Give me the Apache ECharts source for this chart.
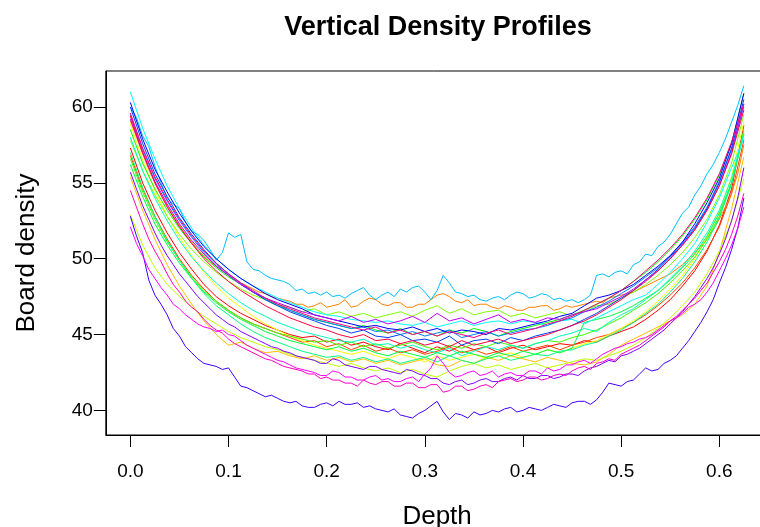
<!DOCTYPE html>
<html>
<head>
<meta charset="utf-8">
<script src="https://cdn.jsdelivr.net/npm/echarts@6/dist/echarts.min.js"></script>
<style>
html,body{margin:0;padding:0;background:#fff;}
#chart{width:760px;height:527px;}
</style>
</head>
<body>
<div id="chart"></div>
<script>
// Depth positions (inches), coarse sampling
const depth = [0, 0.0125, 0.025, 0.0375, 0.05, 0.0625, 0.075, 0.0875, 0.1, 0.1125,
  0.125, 0.1375, 0.15, 0.1625, 0.175, 0.1875, 0.2, 0.2125, 0.225, 0.2375,
  0.25, 0.2625, 0.275, 0.2875, 0.3, 0.3125, 0.325, 0.3375, 0.35, 0.3625,
  0.375, 0.3875, 0.4, 0.4125, 0.425, 0.4375, 0.45, 0.4625, 0.475, 0.4875,
  0.5, 0.5125, 0.525, 0.5375, 0.55, 0.5625, 0.575, 0.5875, 0.6, 0.6125, 0.625];

// Depth positions (inches), fine sampling for the clearly separated profiles
const depthFine = [0,0.00625,0.0125,0.01875,0.025,0.03125,0.0375,0.04375,0.05,0.05625,
  0.0625,0.06875,0.075,0.08125,0.0875,0.09375,0.1,0.10625,0.1125,0.11875,
  0.125,0.13125,0.1375,0.14375,0.15,0.15625,0.1625,0.16875,0.175,0.18125,
  0.1875,0.19375,0.2,0.20625,0.2125,0.21875,0.225,0.23125,0.2375,0.24375,
  0.25,0.25625,0.2625,0.26875,0.275,0.28125,0.2875,0.29375,0.3,0.30625,
  0.3125,0.31875,0.325,0.33125,0.3375,0.34375,0.35,0.35625,0.3625,0.36875,
  0.375,0.38125,0.3875,0.39375,0.4,0.40625,0.4125,0.41875,0.425,0.43125,
  0.4375,0.44375,0.45,0.45625,0.4625,0.46875,0.475,0.48125,0.4875,0.49375,
  0.5,0.50625,0.5125,0.51875,0.525,0.53125,0.5375,0.54375,0.55,0.55625,
  0.5625,0.56875,0.575,0.58125,0.5875,0.59375,0.6,0.60625,0.6125,0.61875,0.625];

// Board density profiles (one per board)
const p01 = [57.3,55.0,53.2,51.7,50.4,49.3,48.3,47.5,46.9,46.4,46.0,45.6,45.3,45.0,44.8,44.9,44.5,44.7,44.3,44.5,44.2,44.0,44.4,44.1,43.8,44.2,43.9,44.3,44.0,44.2,43.8,44.1,44.3,44.0,44.2,44.4,44.3,44.6,44.5,44.9,45.2,45.5,46.0,46.6,47.3,48.2,49.2,50.5,52.2,54.6,58.8];
const p02 = [56.8,54.6,52.8,51.3,50.0,48.9,48.0,47.2,46.6,46.1,45.7,45.4,45.1,44.8,44.5,44.6,44.2,44.4,44.0,44.3,43.9,44.1,43.8,44.0,43.7,43.9,44.2,43.8,44.0,43.7,43.9,44.2,43.9,44.1,44.3,44.0,44.3,44.5,44.8,45.0,45.4,45.8,46.3,46.9,47.6,48.4,49.4,50.6,52.1,54.3,57.8];
const p03 = [59.1,58.0,56.9,55.9,55.0,54.2,53.5,52.8,52.2,51.6,51.1,50.6,50.2,49.8,49.5,49.2,48.9,48.7,48.4,48.2,
  48.0,47.8,47.7,47.5,47.4,47.3,47.2,47.0,47.0,46.8,46.9,47.1,46.8,46.9,47.0,47.3,46.8,46.9,47.2,47.4,
  47.3,47.0,46.9,47.1,47.1,46.8,46.8,47.0,47.0,47.3,47.6,47.7,47.5,47.2,47.1,47.3,46.9,47.0,47.0,46.8,
  46.7,46.9,46.8,46.6,46.6,46.8,46.8,46.9,46.9,46.6,46.7,46.9,46.8,46.9,47.0,47.1,47.2,47.1,47.4,47.5,
  47.6,47.7,47.8,48.0,48.2,48.4,48.6,48.8,49.0,49.3,49.6,50.0,50.4,50.8,51.3,51.9,52.6,53.4,54.3,55.6,57.5];
const p04 = [55.4,53.2,51.3,49.6,48.2,47.0,45.9,45.0,44.3,44.5,44.1,43.8,43.9,43.6,43.4,43.6,43.3,43.5,43.2,43.4,43.1,43.3,43.0,43.2,43.4,43.0,42.9,43.3,43.1,43.5,43.3,43.6,43.4,43.2,43.5,43.3,43.1,43.0,43.2,43.7,44.3,44.7,45.1,45.5,45.9,46.3,47.0,48.2,50.4,53.3,56.7];
const p05 = [58.9,56.5,54.5,52.8,51.4,50.2,49.1,48.2,47.4,46.8,46.2,45.7,45.3,44.9,44.6,44.3,44.1,43.9,43.7,43.9,43.6,43.4,43.7,43.5,43.2,43.6,43.3,43.5,43.7,43.4,43.6,43.8,43.5,43.7,44.0,43.8,44.1,44.4,44.6,45.0,45.4,45.9,46.5,47.2,48.0,48.9,50.0,51.4,53.1,55.4,59.0];
const p06 = [52.9,50.9,49.4,48.3,47.5,46.8,46.2,45.7,45.2,44.8,44.5,44.2,44.0,43.7,43.5,43.3,43.1,42.9,43.1,42.8,42.6,42.8,42.5,42.7,42.4,42.2,42.6,42.9,43.1,42.8,43.0,42.7,42.9,43.1,42.8,43.0,43.2,43.4,43.3,43.6,43.9,44.3,44.8,45.4,46.1,46.9,47.8,49.0,50.5,52.5,55.3];
const p07 = [57.8,55.8,54.2,52.8,51.6,50.6,49.8,49.1,48.5,48.0,47.6,47.3,47.0,46.8,46.5,46.7,46.3,46.5,46.2,46.4,46.1,46.3,46.5,46.2,46.6,46.9,46.4,46.7,46.3,46.5,46.6,46.2,46.4,46.1,46.3,46.5,46.2,46.6,46.9,47.0,47.4,47.8,48.3,48.9,49.6,50.4,51.4,52.6,54.2,56.3,59.5];
const p08 = [56.6,54.4,52.6,51.1,49.9,48.8,47.9,47.2,46.6,46.1,45.7,45.4,45.1,44.9,44.7,44.5,44.6,44.3,44.5,44.2,44.4,44.1,44.3,44.5,44.2,44.0,44.3,44.1,44.4,44.2,44.5,44.3,44.1,44.4,44.6,44.5,44.8,45.0,45.3,45.7,46.1,46.6,47.1,47.7,48.4,49.2,50.1,51.3,52.8,55.0,58.5];
const p09 = [58.5,56.3,54.6,53.2,52.0,51.0,50.1,49.4,48.8,48.3,47.8,47.3,46.9,46.6,46.3,46.0,45.8,45.6,45.4,45.6,45.3,45.1,45.4,45.0,45.2,44.9,45.3,45.1,45.4,45.2,44.9,45.2,45.4,45.6,45.8,46.0,46.3,46.6,47.0,47.4,47.9,48.5,49.1,49.8,50.6,51.5,52.6,53.9,55.5,57.6,60.9];
const p10 = [56.2,54.1,52.3,50.9,49.7,48.7,47.8,47.1,46.5,46.0,45.6,45.2,44.9,44.6,44.4,44.2,44.0,44.2,43.9,44.1,43.8,43.6,43.9,43.7,43.5,43.8,43.6,43.9,43.7,43.5,43.8,43.6,43.9,43.7,44.0,43.8,44.1,45.8,46.0,46.2,46.5,46.9,47.4,47.9,48.6,49.4,50.3,51.5,53.0,55.0,58.2];
const p11 = [57.0,54.7,52.8,51.2,49.9,48.7,47.7,46.9,46.3,45.7,45.2,44.8,44.5,44.2,43.9,43.7,43.5,43.6,43.3,43.5,43.2,43.4,43.1,43.3,43.5,43.2,43.6,43.3,43.1,43.4,43.6,43.3,43.5,43.7,43.6,43.9,44.0,44.3,44.5,44.9,45.3,45.8,46.4,47.0,47.8,48.7,49.8,51.1,52.7,54.9,58.3];
const p12 = [58.0,55.8,54.0,52.5,51.2,50.1,49.2,48.4,47.7,47.1,46.6,46.2,45.8,45.5,45.2,45.0,44.8,44.6,44.5,44.7,44.3,44.4,44.1,44.3,44.0,43.8,44.1,43.6,43.9,44.2,44.0,44.3,44.1,44.4,44.6,44.9,45.1,45.4,45.2,45.8,46.3,46.7,47.3,47.9,48.7,49.5,50.5,51.7,53.2,55.3,58.2];
const p13 = [61.0,58.6,56.6,54.8,53.3,52.0,50.9,50.0,49.3,48.7,48.2,47.8,47.4,47.1,46.8,46.5,46.3,46.2,46.0,45.9,45.8,45.9,45.7,45.6,45.8,45.5,45.7,45.9,45.6,45.8,45.9,45.7,45.9,45.8,45.6,45.9,46.0,45.7,46.1,46.5,46.9,47.3,47.6,48.3,49.1,50.0,51.0,52.4,54.0,56.0,57.9];
const p14 = [60.0,59.3,58.1,57.4,56.1,55.0,54.0,53.6,53.3,52.4,51.8,51.6,51.2,50.6,49.9,50.4,51.7,51.4,51.6,49.8,
  49.3,49.2,48.9,48.7,48.6,48.5,48.3,47.9,48.0,47.7,47.8,47.6,47.8,47.5,47.6,47.4,47.7,47.9,48.1,47.6,
  47.3,47.6,47.8,47.5,48.0,47.8,48.1,48.2,47.8,47.3,47.9,48.9,48.4,47.8,47.7,47.5,47.6,47.3,47.2,47.4,
  47.5,47.3,47.6,47.8,47.7,47.4,47.5,47.7,47.6,47.3,47.4,47.2,47.3,47.1,47.3,47.6,48.9,49.0,48.8,49.1,
  49.2,49.0,49.6,49.8,50.3,50.2,50.8,51.1,51.6,52.3,53.0,53.4,54.2,54.8,55.6,56.2,57.0,57.9,59.0,60.1,61.4];
const p15 = [59.5,57.2,55.3,53.8,52.5,51.4,50.4,49.6,48.9,48.3,47.8,47.4,47.0,46.6,46.3,46.0,45.8,45.6,45.4,45.5,45.2,45.3,45.0,45.2,44.9,45.1,45.3,44.8,45.0,45.2,44.9,45.1,45.3,45.4,45.6,45.9,46.1,46.5,46.8,47.2,47.7,48.2,48.8,49.4,50.2,51.1,52.1,53.4,55.1,57.2,60.0];
const p16 = [60.0,57.6,55.6,54.1,52.7,51.6,50.6,49.7,49.0,48.4,47.8,47.3,46.9,46.5,46.2,45.9,45.6,45.4,45.1,45.3,44.9,44.8,45.0,44.6,44.7,44.5,44.9,44.3,44.6,44.7,44.4,44.8,44.6,44.9,45.1,45.3,45.6,46.0,46.4,46.9,47.4,47.9,48.6,49.3,50.1,51.0,52.0,53.3,55.0,57.3,60.5];
const p17 = [60.3,57.9,55.9,54.4,53.0,51.8,50.8,50.0,49.3,48.7,48.2,47.7,47.3,47.0,46.7,46.3,46.1,45.9,45.7,45.5,45.6,45.4,45.3,45.5,45.2,45.4,45.1,45.3,45.2,45.0,45.4,45.3,45.5,45.7,45.9,46.2,46.4,46.9,47.4,47.6,47.9,48.3,48.9,49.5,50.2,51.1,52.3,53.7,55.3,57.6,60.9];
const p18 = [52.8,51.5,50.4,48.6,47.6,47.0,46.3,45.4,44.9,44.2,43.8,43.4,43.1,43.0,42.9,42.7,42.8,42.2,41.6,41.5,
  41.3,41.1,40.9,41.0,40.8,40.6,40.5,40.6,40.3,40.2,40.2,40.4,40.5,40.3,40.6,40.4,40.4,40.5,40.2,40.3,
  40.1,40.0,39.9,40.1,39.7,39.6,39.5,39.8,40.0,40.3,40.6,39.9,39.4,39.8,39.7,39.5,39.9,39.7,39.8,40.0,
  39.9,40.1,40.2,39.9,40.0,40.2,40.1,40.0,40.2,40.4,40.3,40.2,40.5,40.6,40.6,40.4,40.7,41.2,41.8,41.7,
  41.6,41.9,42.0,42.4,42.8,42.6,42.7,43.1,43.3,43.6,44.1,44.6,45.2,45.8,46.5,47.3,48.4,49.4,50.6,52.0,54.0];
const p19 = [55.7,54.6,53.5,52.6,51.7,50.9,50.2,49.6,49.0,48.5,48.0,47.5,47.1,46.7,46.3,46.0,45.7,45.5,45.2,45.0,
  44.8,44.6,44.4,44.2,44.1,43.9,43.8,43.6,43.5,43.4,43.3,43.1,43.1,43.4,43.3,43.0,42.9,42.8,42.7,42.9,
  42.9,42.7,42.6,42.5,42.4,42.7,42.6,42.4,42.3,42.1,42.1,41.8,41.7,41.9,42.0,41.7,41.8,42.0,42.1,41.9,
  41.9,42.1,42.2,42.0,42.3,42.1,42.1,42.3,42.3,42.1,42.2,42.4,42.4,42.3,42.6,42.8,42.9,43.1,43.3,43.2,
  43.6,43.7,43.9,44.1,44.4,44.7,45.0,45.3,45.7,46.1,46.5,47.0,47.5,48.1,48.7,49.4,50.3,51.3,52.5,54.0,56.0];
const p20 = [59.2,57.0,55.1,53.6,52.3,51.2,50.3,49.5,48.9,48.3,47.8,47.4,47.1,46.8,46.5,46.3,46.1,45.9,46.2,45.8,46.0,45.7,45.9,46.2,45.8,46.4,45.9,46.1,45.7,46.0,46.3,45.8,46.0,45.8,46.1,46.0,46.3,46.5,46.7,47.1,47.5,48.0,48.6,49.2,50.0,50.9,51.9,53.2,54.8,57.0,60.2];
const p21 = [52.1,51.0,50.2,49.3,48.7,48.1,47.6,47.0,46.7,46.3,46.0,45.7,45.5,45.4,45.2,45.3,45.0,44.9,44.6,44.3,
  44.1,43.9,43.7,43.5,43.3,43.2,43.0,42.8,42.7,42.6,42.5,42.3,42.3,42.6,42.5,42.2,42.2,42.0,42.0,42.2,
  42.3,42.0,42.1,41.9,41.9,42.1,42.2,41.9,42.4,42.8,43.6,43.1,42.5,42.2,42.3,42.5,42.6,42.3,42.4,42.6,
  42.2,42.4,42.5,42.3,42.3,42.6,42.6,42.4,42.8,42.6,42.7,43.0,43.0,43.2,43.3,43.1,43.4,43.7,43.9,44.1,
  44.2,44.4,44.5,44.7,44.8,45.0,45.3,45.6,45.9,46.1,46.4,46.8,47.0,47.3,47.8,48.4,49.2,50.0,50.9,52.0,53.4];
const p22 = [54.5,53.4,52.3,51.3,50.5,49.8,49.0,48.3,47.8,47.2,46.8,46.5,46.0,45.6,45.3,45.1,44.7,44.4,44.2,44.0,
  43.8,43.6,43.4,43.3,43.1,42.9,42.8,42.7,42.6,42.4,42.4,42.1,42.2,42.0,42.0,41.8,41.8,41.6,42.0,41.8,
  41.7,41.9,41.9,41.6,41.6,41.8,41.8,41.5,41.5,41.7,41.7,41.2,41.3,41.6,41.6,41.3,41.4,41.6,41.7,41.5,
  41.9,42.0,42.1,41.9,42.0,42.2,42.2,42.0,42.1,42.3,42.4,42.3,42.6,42.8,42.9,42.7,43.1,43.2,43.4,43.3,
  43.7,43.9,44.1,44.3,44.6,44.9,45.2,45.5,45.9,46.2,46.6,47.0,47.4,47.9,48.4,49.1,49.8,50.6,51.6,52.8,54.3];
const p23 = [59.6,57.3,55.4,53.9,52.6,51.5,50.5,49.7,49.0,48.4,47.9,47.4,47.0,46.7,46.4,46.1,45.9,45.7,45.5,45.3,45.5,45.1,45.3,45.0,45.2,44.9,45.2,45.0,44.8,45.1,45.3,45.0,45.2,45.4,45.7,45.9,46.2,46.6,47.0,47.4,47.9,48.5,49.2,49.9,50.7,51.6,52.7,54.0,55.6,57.7,60.2];
const p24 = [59.4,57.0,55.0,53.4,52.1,51.0,50.0,49.2,48.5,47.9,47.4,46.9,46.5,46.1,45.8,45.5,45.3,45.0,44.8,45.0,44.6,44.7,44.4,44.6,44.3,44.5,44.2,44.6,44.3,44.5,44.7,44.4,44.6,44.8,45.0,45.3,45.6,45.9,46.3,46.8,47.3,47.9,48.5,49.2,50.0,50.9,51.9,53.2,54.8,56.9,59.8];

const profiles = [p01,p02,p03,p04,p05,p06,p07,p08,p09,p10,p11,p12,p13,p14,p15,p16,p17,p18,p19,p20,p21,p22,p23,p24];

// rainbow(24) palette
const palette = ['#FF0000','#FF4000','#FF8000','#FFBF00','#FFFF00','#BFFF00','#80FF00','#40FF00',
  '#00FF00','#00FF40','#00FF80','#00FFBF','#00FFFF','#00BFFF','#0080FF','#0040FF',
  '#0000FF','#4000FF','#8000FF','#BF00FF','#FF00FF','#FF00BF','#FF0080','#FF0040'];

// tick values
const xTickVals = [0, 0.1, 0.2, 0.3, 0.4, 0.5, 0.6];
const yTickVals = [40, 45, 50, 55, 60];

const FONT = 'Liberation Sans, Arial, Helvetica, sans-serif';
const chart = echarts.init(document.getElementById('chart'), null, {renderer:'canvas'});

const series = profiles.map((p, k) => {
  const xs = p.length === depthFine.length ? depthFine : depth;
  return {
    type: 'line',
    data: xs.map((d, i) => [d, p[i]]),
    showSymbol: false, symbol: 'none', silent: true,
    lineStyle: {width: 1, color: palette[k]},
    itemStyle: {color: palette[k]}
  };
});

chart.setOption({
  animation: false,
  backgroundColor: '#fff',
  title: {
    text: 'Vertical Density Profiles',
    left: 438, top: 14, textAlign: 'center', padding: 0,
    textStyle: {fontFamily: FONT, fontWeight: 'bold', fontSize: 27, color: '#000'}
  },
  grid: {left: 105.8, top: 71, width: 662.6, height: 364, outerBoundsMode: 'none', containLabel: false,
         show: true, borderColor: '#000', borderWidth: 1, backgroundColor: 'rgba(0,0,0,0)'},
  xAxis: {
    type: 'value', min: -0.025, max: 0.65,
    axisLine: {show: true, onZero: false, lineStyle: {color: '#000', width: 1}},
    axisTick: {show: true, length: 12, customValues: xTickVals, lineStyle: {color: '#000', width: 1}},
    axisLabel: {margin: 27, fontFamily: FONT, fontSize: 19, color: '#000', customValues: xTickVals, formatter: v => v.toFixed(1)},
    splitLine: {show: false},
    name: 'Depth', nameLocation: 'middle', nameGap: 69,
    nameTextStyle: {fontFamily: FONT, fontSize: 26, color: '#000'}
  },
  yAxis: {
    type: 'value', min: 38.38, max: 62.37,
    axisLine: {show: true, onZero: false, lineStyle: {color: '#000', width: 1}},
    axisTick: {show: true, length: 12, customValues: yTickVals, lineStyle: {color: '#000', width: 1}},
    axisLabel: {margin: 13, fontFamily: FONT, fontSize: 19, color: '#000', customValues: yTickVals},
    splitLine: {show: false},
    name: 'Board density', nameLocation: 'middle', nameGap: 66,
    nameTextStyle: {fontFamily: FONT, fontSize: 26, color: '#000'}
  },
  series: series
});
</script>
</body>
</html>
